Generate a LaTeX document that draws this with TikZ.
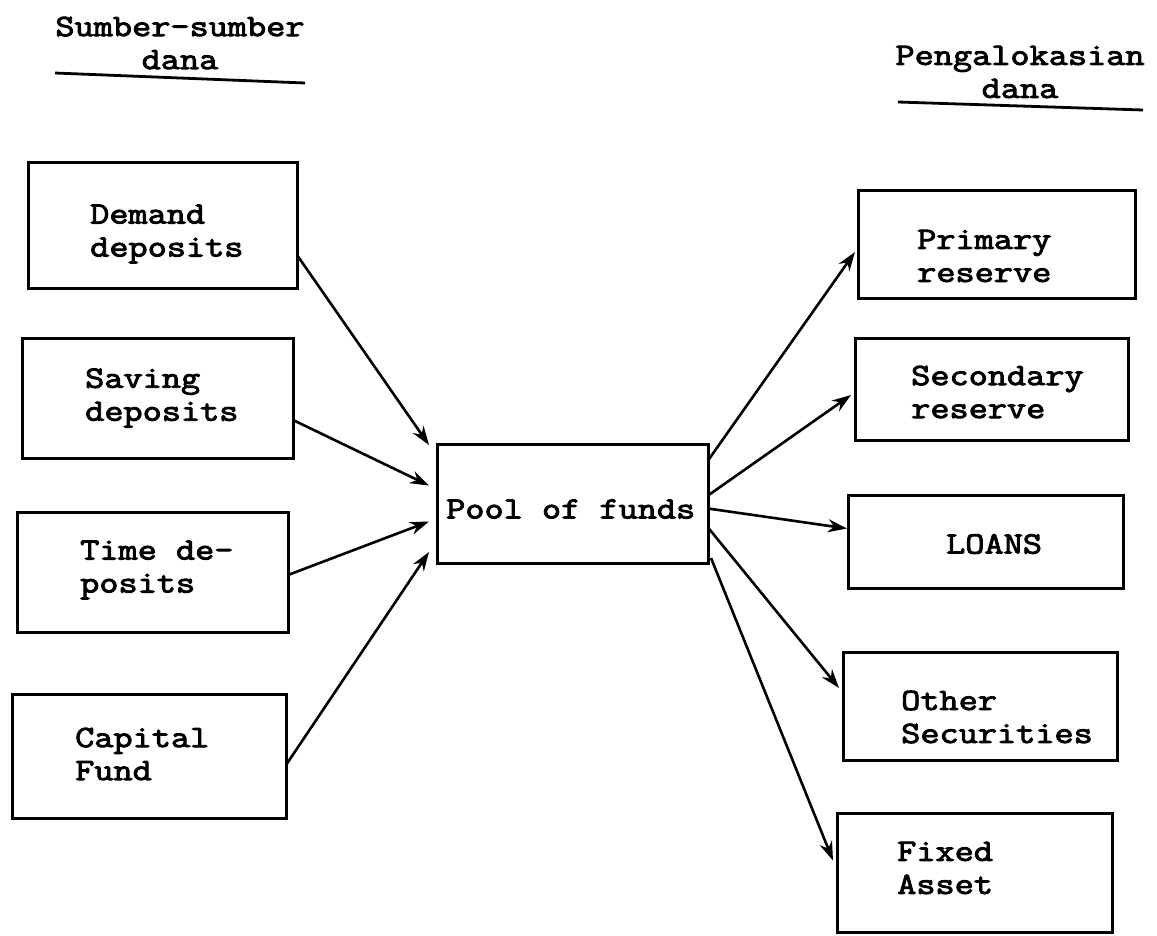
\documentclass[tikz,border=0pt]{standalone}
\usepackage{fontspec}
\setmonofont{Latin Modern Mono}[AutoFakeBold=3,FakeStretch=1.2]
\usetikzlibrary{arrows.meta}
\begin{document}
\begin{tikzpicture}[x=1pt,y=1pt,
  box/.style={draw, line width=3pt, inner sep=0pt, outer sep=0pt},
  txt/.style={font=\ttfamily\bfseries\fontsize{31}{33}\selectfont, inner sep=0pt, align=left, anchor=west},
  head/.style={font=\ttfamily\bfseries\fontsize{31}{33}\selectfont, inner sep=0pt, align=center},
  arr/.style={line width=2.6pt, -{Stealth[length=19pt,width=13pt]}}]
\useasboundingbox (0,0) rectangle (1157,-935);
% headers
\node[head] (hl) at (180,-43) {Sumber-sumber\\dana};
\node[head] (hr) at (1020,-72) {Pengalokasian\\dana};
\draw[line width=2.8pt] (55,-73) -- (305,-83);
\draw[line width=2.8pt] (898,-102) -- (1143,-110);
% left boxes
\node[box, minimum width=269pt, minimum height=126pt] (dem) at (162.5,-225) {};
\node[box, minimum width=271pt, minimum height=120pt] (sav) at (157.5,-398) {};
\node[box, minimum width=271pt, minimum height=120pt] (tim) at (152.5,-572) {};
\node[box, minimum width=274pt, minimum height=124pt] (cap) at (149,-756) {};
% center
\node[box, minimum width=271pt, minimum height=119pt] (pool) at (572.5,-503.5) {};
% right boxes
\node[box, minimum width=277pt, minimum height=108pt] (pri) at (996.5,-244) {};
\node[box, minimum width=273pt, minimum height=102pt] (sec) at (991.5,-389) {};
\node[box, minimum width=275pt, minimum height=93pt] (loa) at (985.5,-541.5) {};
\node[box, minimum width=274pt, minimum height=108pt] (oth) at (980,-706) {};
\node[box, minimum width=275pt, minimum height=119pt] (fix) at (974.5,-872.5) {};
% texts
\node[txt] (tdem) at (90,-234) {Demand\\deposits};
\node[txt] (tsav) at (85,-398) {Saving\\deposits};
\node[txt] (ttim) at (80,-570) {Time de-\\posits};
\node[txt] (tcap) at (75,-754) {Capital\\Fund};
\node[txt] (tpool) at (446,-509) {Pool of funds};
\node[txt] (tpri) at (917,-256) {Primary\\reserve};
\node[txt] (tsec) at (911,-392) {Secondary\\reserve};
\node[txt] (tloa) at (946,-544) {LOANS};
\node[txt] (toth) at (901,-717) {Other\\Securities};
\node[txt] (tfix) at (897,-868) {Fixed\\Asset};
% arrows in
\draw[arr] ([yshift=-30pt]dem.east) -- ([xshift=-8pt,yshift=-1pt]pool.north west);
\draw[arr] ([yshift=-22pt]sav.east) -- ([xshift=-8pt,yshift=18pt]pool.west);
\draw[arr] ([yshift=-3pt]tim.east) -- ([xshift=-8pt,yshift=-18pt]pool.west);
\draw[arr] ([yshift=-9pt]cap.east) -- ([xshift=-8pt,yshift=11pt]pool.south west);
% arrows out
\draw[arr] ([yshift=43pt]pool.east) -- ([xshift=-3pt,yshift=-8pt]pri.west);
\draw[arr] ([yshift=8pt]pool.east) -- ([xshift=-4pt,yshift=-6pt]sec.west);
\draw[arr] ([yshift=-5pt]pool.east) -- ([xshift=-1pt,yshift=13pt]loa.west);
\draw[arr] ([yshift=-24pt]pool.east) -- ([xshift=-4pt,yshift=18pt]oth.west);
\draw[arr] ([xshift=3pt,yshift=5pt]pool.south east) -- ([xshift=-4pt,yshift=12pt]fix.west);
\end{tikzpicture}
\end{document}
